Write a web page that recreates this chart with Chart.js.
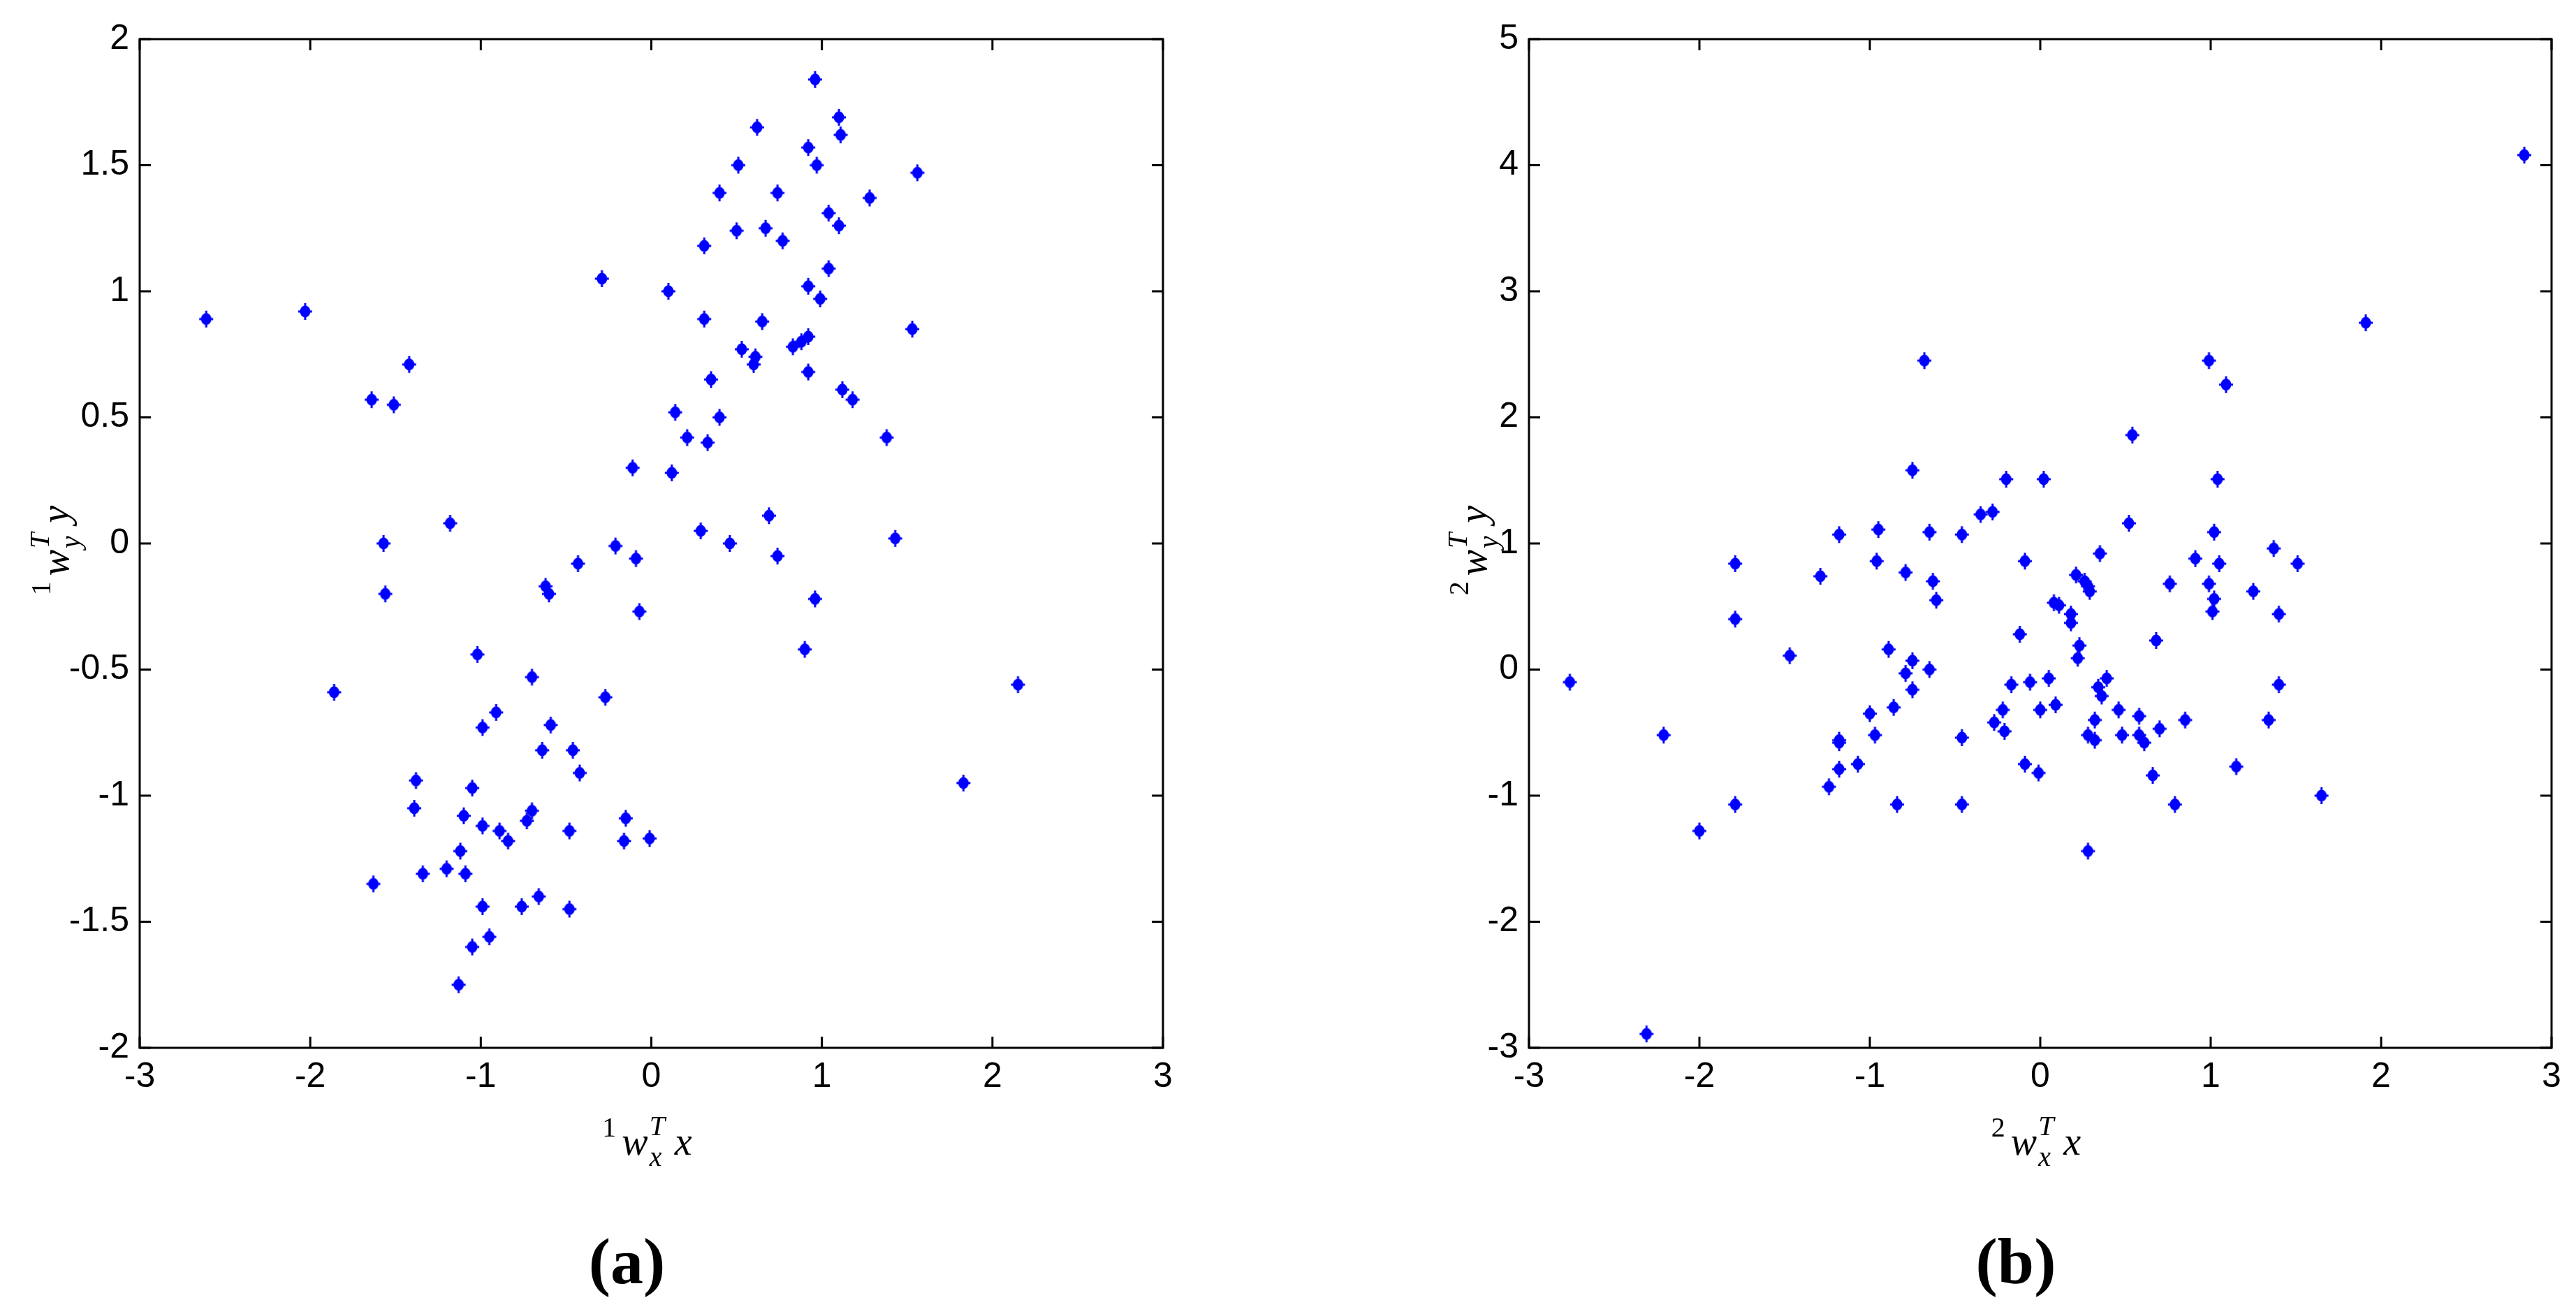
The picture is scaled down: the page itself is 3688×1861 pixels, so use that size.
<!DOCTYPE html>
<html lang="en">
<head>
  <meta charset="UTF-8" />
  <title>Projections (a) and (b)</title>
  <script src="https://cdn.jsdelivr.net/npm/chart.js"></script>
  <style>
    html, body {
      margin: 0;
      padding: 0;
      background: #fff;
    }

    .panel {
      position: absolute;
      top: 0;
      width: 1844px;
      height: 1861px;
    }

    #panelA { left: 0; }
    #panelB { left: 1844px; }
  </style>
</head>
<body>
  <div class="panel" id="panelA"><canvas id="chartA" width="1844" height="1861"></canvas></div>
  <div class="panel" id="panelB"><canvas id="chartB" width="1844" height="1861"></canvas></div>

  <script>
    // axis ranges
    const xRange = [-3, 3];
    const yRangeA = [-2, 2];
    const yRangeB = [-3, 5];
    const yStepA = 0.5;
    const yStepB = 1;

    // (a) first pair of projections
    const xA = [
      -2.61, -2.03, -0.29, -1.42, -1.64, -1.51, -0.11, -1.18, -1.57, -0.21,
      0.96, 1.10, 1.11, 0.62, 0.92, 0.51, 0.97, 1.56, 0.40, 0.74,
      1.28, 1.04, 1.10, 0.50, 0.67, 0.77, 0.31, 1.04, 0.10, 0.92,
      0.99, 0.31, 0.65, 1.53, 0.53, 0.83, 0.88, 0.92, 0.61, 0.60,
      0.92, 0.35, 1.12, 1.18, 0.14, 0.40, 0.21, 0.33, 1.38, 0.12,
      0.69, 0.29, 0.46, 1.43, -0.09, -0.43, -0.62, -0.60, -1.56, -0.07,
      -1.02, -0.70, -1.86, -0.27, -0.91, -0.99, -0.59, -0.64, -0.46, -0.42,
      -1.38, -1.05, -1.39, -1.10, -0.70, -0.73, -0.99, -0.89, -0.84, -0.48,
      -0.15, -0.16, -0.01, -1.12, -1.20, -1.34, -1.09, -1.63, -0.99, -0.76,
      -0.66, -0.48, -0.95, -1.05, -1.13, 0.74, 0.96, 0.90, 2.15, 1.83
    ];
    const yA = [
      0.89, 0.92, 1.05, 0.71, 0.57, 0.55, 0.30, 0.08, 0.00, -0.01,
      1.84, 1.69, 1.62, 1.65, 1.57, 1.50, 1.50, 1.47, 1.39, 1.39,
      1.37, 1.31, 1.26, 1.24, 1.25, 1.20, 1.18, 1.09, 1.00, 1.02,
      0.97, 0.89, 0.88, 0.85, 0.77, 0.78, 0.80, 0.82, 0.74, 0.71,
      0.68, 0.65, 0.61, 0.57, 0.52, 0.50, 0.42, 0.40, 0.42, 0.28,
      0.11, 0.05, 0.00, 0.02, -0.06, -0.08, -0.17, -0.20, -0.20, -0.27,
      -0.44, -0.53, -0.59, -0.61, -0.67, -0.73, -0.72, -0.82, -0.82, -0.91,
      -0.94, -0.97, -1.05, -1.08, -1.06, -1.10, -1.12, -1.14, -1.18, -1.14,
      -1.09, -1.18, -1.17, -1.22, -1.29, -1.31, -1.31, -1.35, -1.44, -1.44,
      -1.40, -1.45, -1.56, -1.60, -1.75, -0.05, -0.22, -0.42, -0.56, -0.95
    ];

    // (b) second pair of projections
    const xB = [
      -0.68, -0.75, -0.20, -0.35, -0.28, -1.18, -0.95, -0.65, -0.46, 2.84,
      1.91, 0.99, 1.09, 0.54, 0.02, 1.04, 0.52, 1.02, -2.76, -2.21,
      -2.00, -2.31, -1.79, -1.79, -1.79, -1.47, -1.29, -0.96, -0.79, -0.63,
      -0.61, -0.09, -0.12, -0.89, -0.75, -0.79, -0.65, -0.75, -0.86, -1.00,
      -0.97, -1.18, -1.18, -1.07, -1.18, -1.24, -0.84, -0.46, -0.46, -0.17,
      -0.06, -0.22, -0.27, -0.21, -0.09, -0.01, 0.00, 0.35, 1.37, 0.91,
      1.05, 1.51, 0.21, 0.26, 0.28, 0.29, 0.76, 0.99, 1.25, 1.02,
      1.01, 1.40, 0.08, 0.11, 0.18, 0.18, 0.68, 0.23, 0.22, 0.05,
      0.39, 0.34, 0.36, 0.09, 0.46, 0.58, 0.32, 0.85, 1.34, 1.40,
      0.70, 0.48, 0.28, 0.32, 0.58, 0.61, 1.15, 0.66, 0.79, 1.65,
      0.28
    ];
    const yB = [
      2.45, 1.58, 1.51, 1.23, 1.25, 1.07, 1.11, 1.09, 1.07, 4.08,
      2.75, 2.45, 2.26, 1.86, 1.51, 1.51, 1.16, 1.09, -0.10, -0.52,
      -1.28, -2.89, 0.84, 0.40, -1.07, 0.11, 0.74, 0.86, 0.77, 0.70,
      0.55, 0.86, 0.28, 0.16, 0.07, -0.03, 0.00, -0.16, -0.30, -0.35,
      -0.52, -0.56, -0.58, -0.75, -0.79, -0.93, -1.07, -1.07, -0.54, -0.12,
      -0.10, -0.32, -0.42, -0.49, -0.75, -0.82, -0.32, 0.92, 0.96, 0.88,
      0.84, 0.84, 0.75, 0.70, 0.66, 0.62, 0.68, 0.68, 0.62, 0.56,
      0.46, 0.44, 0.53, 0.51, 0.44, 0.37, 0.23, 0.19, 0.09, -0.07,
      -0.07, -0.14, -0.21, -0.28, -0.32, -0.37, -0.40, -0.40, -0.40, -0.12,
      -0.47, -0.52, -0.52, -0.56, -0.52, -0.58, -0.77, -0.84, -1.07, -1.00,
      -1.44
    ];

    Chart.defaults.font.family = '"Liberation Sans", Arial, sans-serif';
    Chart.defaults.color = '#000';

    const MAIN = 56;      // math title size
    const SCRIPT = 40;    // super/subscript size
    const TICK = 16;      // inward tick length

    // blue marker like the original plot symbol
    function makeMarker() {
      const c = document.createElement('canvas');
      c.width = 22;
      c.height = 26;
      const g = c.getContext('2d');
      g.fillStyle = '#0000ff';
      g.beginPath();
      g.ellipse(11, 13, 7.5, 8.5, 0, 0, Math.PI * 2);
      g.fill();
      g.fillRect(9.5, 1, 3, 24);
      g.fillRect(1, 11.5, 20, 3);
      return c;
    }
    const marker = makeMarker();

    function serif(size, italic) {
      return (italic ? 'italic ' : '') + size + 'px "Liberation Serif", "Times New Roman", serif';
    }

    // lays out  <pre>w_sub^T main  as a list of positioned glyph runs
    function mathRuns(ctx, pre, sub, main) {
      const runs = [];
      let x = 0;
      ctx.font = serif(SCRIPT, false);
      runs.push({ t: pre, x: x, dy: -26, font: serif(SCRIPT, false) });
      x += ctx.measureText(pre).width + 8;
      ctx.font = serif(MAIN, true);
      runs.push({ t: 'w', x: x, dy: 0, font: serif(MAIN, true) });
      x += ctx.measureText('w').width + 2;
      ctx.font = serif(SCRIPT, true);
      const wT = ctx.measureText('T').width;
      const wS = ctx.measureText(sub).width;
      runs.push({ t: 'T', x: x, dy: -28, font: serif(SCRIPT, true) });
      runs.push({ t: sub, x: x, dy: 16, font: serif(SCRIPT, true) });
      x += Math.max(wT, wS) + 14;
      ctx.font = serif(MAIN, true);
      runs.push({ t: main, x: x, dy: 0, font: serif(MAIN, true) });
      x += ctx.measureText(main).width;
      return { runs: runs, width: x };
    }

    function drawRuns(ctx, m) {
      ctx.textAlign = 'left';
      ctx.textBaseline = 'alphabetic';
      m.runs.forEach(r => {
        ctx.font = r.font;
        ctx.fillText(r.t, r.x - m.width / 2, r.dy);
      });
    }

    // box with inward ticks on four sides, math axis titles and caption
    const paperAxes = {
      id: 'paperAxes',
      afterDraw(chart, args, opts) {
        const { ctx, chartArea: a, scales } = chart;
        const x = scales.x, y = scales.y;
        ctx.save();
        ctx.strokeStyle = '#000';
        ctx.lineWidth = 3;
        ctx.strokeRect(a.left, a.top, a.right - a.left, a.bottom - a.top);
        ctx.beginPath();
        x.ticks.forEach((t, i) => {
          const px = x.getPixelForTick(i);
          ctx.moveTo(px, a.bottom); ctx.lineTo(px, a.bottom - TICK);
          ctx.moveTo(px, a.top); ctx.lineTo(px, a.top + TICK);
        });
        y.ticks.forEach((t, i) => {
          const py = y.getPixelForTick(i);
          ctx.moveTo(a.left, py); ctx.lineTo(a.left + TICK, py);
          ctx.moveTo(a.right, py); ctx.lineTo(a.right - TICK, py);
        });
        ctx.stroke();

        ctx.fillStyle = '#000';
        const cx = (a.left + a.right) / 2;
        const cy = (a.top + a.bottom) / 2;

        // x title
        ctx.save();
        ctx.translate(cx - 6, 1653);
        drawRuns(ctx, mathRuns(ctx, opts.pre, 'x', 'x'));
        ctx.restore();

        // y title, rotated
        ctx.save();
        ctx.translate(a.left - opts.yTitleGap, cy + 10);
        ctx.rotate(-Math.PI / 2);
        drawRuns(ctx, mathRuns(ctx, opts.pre, 'y', 'y'));
        ctx.restore();

        // caption
        ctx.font = 'bold 94px "Liberation Serif", "Times New Roman", serif';
        ctx.textAlign = 'center';
        ctx.textBaseline = 'alphabetic';
        ctx.fillText(opts.caption, cx - 35, 1837);
        ctx.restore();
      }
    };

    function makeChart(id, xs, ys, yRange, yStep, layout) {
      const points = xs.map((v, i) => ({ x: v, y: ys[i] }));
      return new Chart(document.getElementById(id), {
        type: 'scatter',
        data: {
          datasets: [{
            data: points,
            pointStyle: marker,
            pointRadius: 10,
            pointHoverRadius: 10,
            clip: false
          }]
        },
        options: {
          responsive: false,
          devicePixelRatio: 1,
          animation: false,
          events: [],
          layout: { padding: layout.padding },
          plugins: {
            legend: { display: false },
            tooltip: { enabled: false },
            paperAxes: { pre: layout.pre, caption: layout.caption, yTitleGap: layout.yTitleGap }
          },
          scales: {
            x: {
              type: 'linear',
              min: xRange[0],
              max: xRange[1],
              grid: { display: false, drawTicks: false },
              border: { display: false },
              ticks: {
                stepSize: 1,
                padding: 12,
                maxRotation: 0,
                font: { size: 50 },
                callback: v => String(v)
              },
              afterFit: s => { s.height = 100; }
            },
            y: {
              type: 'linear',
              min: yRange[0],
              max: yRange[1],
              grid: { display: false, drawTicks: false },
              border: { display: false },
              ticks: {
                stepSize: yStep,
                padding: 15,
                font: { size: 50 },
                callback: v => String(v)
              },
              afterFit: s => { s.width = layout.yWidth; }
            }
          }
        },
        plugins: [paperAxes]
      });
    }

    makeChart('chartA', xA, yA, yRangeA, yStepA, {
      pre: '1',
      caption: '(a)',
      yWidth: 200,
      yTitleGap: 102,
      padding: { left: 0, right: 179, top: 56, bottom: 261 }
    });

    makeChart('chartB', xB, yB, yRangeB, yStepB, {
      pre: '2',
      caption: '(b)',
      yWidth: 345,
      yTitleGap: 61,
      padding: { left: 0, right: 35, top: 56, bottom: 261 }
    });
  </script>
</body>
</html>
